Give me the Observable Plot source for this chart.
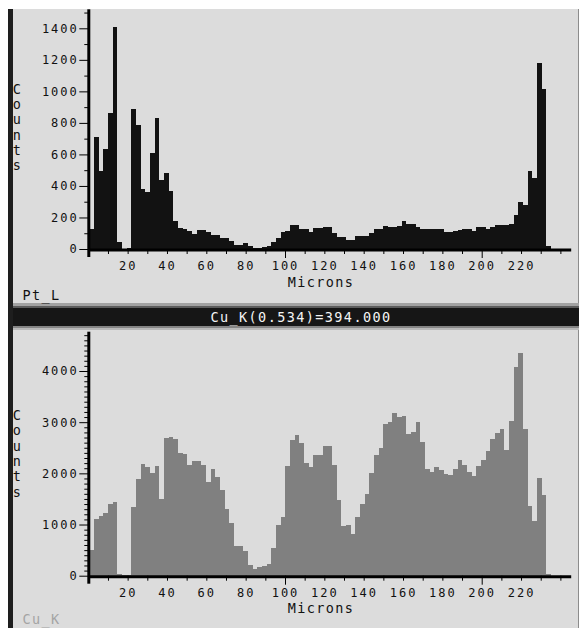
<!DOCTYPE html>
<html>
<head>
<meta charset="utf-8">
<script src="https://cdn.jsdelivr.net/npm/d3@7"></script>
<script src="https://cdn.jsdelivr.net/npm/@observablehq/plot@0.6"></script>
<style>
  html, body { margin: 0; padding: 0; background: #fff; }
  #scan { position: relative; width: 581px; height: 628px; overflow: hidden; background: #fff; }
  #scan .panel-bg { position: absolute; left: 8px; top: 9px; width: 571px; height: 619px; background: #dcdcdc; border-right: 1px solid #8c8c8c; box-sizing: border-box; }
  #scan .strip { position: absolute; left: 8px; top: 9px; width: 4.5px; height: 619px; background: #1e1e1e; }
  #scan .band { position: absolute; left: 12.5px; width: 566px; }
  #scan .chart { position: absolute; left: 0; }
  #scan .chart text { font-family: "DejaVu Sans Mono", monospace; font-size: 12px; letter-spacing: 2px; fill: #111; }
  #scan .overlay { position: absolute; left: 0; top: 0; }
  #scan .overlay text { font-family: "DejaVu Sans Mono", monospace; font-size: 13.5px; letter-spacing: 1.4px; fill: #111; }
</style>
</head>
<body>
<div id="scan">
  <div class="panel-bg"></div>
  <div class="strip"></div>
  <div class="band" style="top:303px;height:3px;background:#a2a2a2"></div>
  <div class="band" style="top:306px;height:2px;background:#5c5c5c"></div>
  <div class="band" style="top:308px;height:18px;background:#161616"></div>
  <div class="band" style="top:326px;height:2px;background:#858585"></div>
  <div class="band" style="top:328px;height:2px;background:#b9b9b9"></div>
</div>
<script>
// Line scan profiles: counts per bin along the traverse (microns)
const micronStart = 0.6;
const binWidth = 2.37;

const ptCounts = [
  125, 708, 497, 632, 860, 1410, 42, 3, 8, 886,
  786, 378, 359, 607, 833, 437, 484, 370, 179, 136,
  128, 115, 97, 118, 120, 108, 86, 88, 68, 69,
  53, 28, 27, 35, 20, 8, 9, 14, 20, 42,
  68, 108, 116, 150, 150, 126, 126, 106, 131, 133,
  137, 137, 100, 73, 73, 55, 55, 80, 80, 80,
  100, 127, 127, 148, 141, 141, 146, 180, 160, 156,
  141, 127, 125, 125, 125, 125, 106, 106, 116, 120,
  125, 125, 116, 137, 137, 125, 141, 154, 154, 154,
  160, 216, 296, 279, 496, 448, 1183, 1014, 22
];

const cuCounts = [
  502, 1113, 1166, 1224, 1406, 1439, 27, 8, 5, 1342,
  1882, 2188, 2123, 2000, 2143, 1504, 2689, 2702, 2676, 2403,
  2377, 2162, 2246, 2246, 2156, 1830, 2090, 1922, 1668, 1297,
  1035, 590, 590, 475, 209, 128, 163, 190, 229, 544,
  990, 1152, 2145, 2660, 2757, 2590, 2207, 2129, 2365, 2365,
  2533, 2533, 2162, 1485, 975, 1000, 809, 1152, 1405, 1590,
  2012, 2365, 2488, 2965, 3000, 3185, 3110, 3120, 2765, 2813,
  3005, 2618, 2080, 2030, 2120, 2065, 1995, 1966, 2080, 2265,
  2162, 2020, 1940, 2150, 2265, 2440, 2664, 2780, 2858, 2455,
  3030, 4075, 4343, 2858, 1370, 1060, 1901, 1570, 25
];

// Axis tick values
const xLabels = [20, 40, 60, 80, 100, 120, 140, 160, 180, 200, 220];
const xMajor = [100, 200];
const xMinor = [10, 20, 30, 40, 50, 60, 70, 80, 90, 110, 120, 130, 140, 150, 160, 170, 180, 190, 210, 220, 230, 240];
const ptYLabels = [0, 200, 400, 600, 800, 1000, 1200, 1400];
const ptYMinor = [100, 300, 500, 700, 900, 1100, 1300, 1500];
const cuYLabels = [0, 1000, 2000, 3000, 4000];
const cuYMinor = d3.range(100, 4800, 100).filter(v => v % 1000 !== 0);

// Text
const xTitle = "Microns";
const yTitle = "Counts";
const ptName = "Pt_L";
const cuName = "Cu_K";
const cursorReadout = "Cu_K(0.534)=394.000";

function profile({counts, fill, yMax, yLabels, yMinor, marginTop, marginBottom, top}) {
  const bins = counts.map((count, i) => ({
    x1: micronStart + i * binWidth,
    x2: micronStart + (i + 1) * binWidth,
    count
  }));
  const svg = Plot.plot({
    width: 581,
    height: 302,
    marginLeft: 88.3,
    marginRight: 9.8,
    marginTop,
    marginBottom,
    style: {background: "transparent", color: "#000", overflow: "visible"},
    x: {domain: [0, 245.5]},
    y: {domain: [0, yMax]},
    marks: [
      Plot.rectY(bins, {x1: "x1", x2: "x2", y: "count", fill, shapeRendering: "crispEdges"}),
      Plot.axisY({ticks: yMinor, tickSize: 4, tickFormat: () => "", label: null}),
      Plot.axisY({ticks: yLabels, tickSize: 9, tickPadding: 1, tickFormat: d => String(d), label: null}),
      Plot.axisX({ticks: xMinor, tickSize: 5, tickFormat: () => "", label: null}),
      Plot.axisX({ticks: xMajor, tickSize: 9, tickFormat: () => "", label: null}),
      Plot.axisX({ticks: xLabels, tickSize: 0, tickPadding: 12, tickFormat: d => String(d), label: null}),
      Plot.ruleY([0], {stroke: "#000", strokeWidth: 3, dy: 0.5}),
      Plot.ruleX([0], {stroke: "#000", strokeWidth: 3, insetBottom: -8})
    ]
  });
  svg.classList.add("chart");
  svg.style.top = top + "px";
  return svg;
}

const scan = document.getElementById("scan");
scan.appendChild(profile({
  counts: ptCounts, fill: "#121212", yMax: 1520.6,
  yLabels: ptYLabels, yMinor: ptYMinor,
  marginTop: 9.3, marginBottom: 53, top: 0
}));
scan.appendChild(profile({
  counts: cuCounts, fill: "#808080", yMax: 4768,
  yLabels: cuYLabels, yMinor: cuYMinor,
  marginTop: 5.7, marginBottom: 52.3, top: 326
}));

// Titles and panel names
const overlay = d3.select(scan).append("svg")
  .attr("class", "overlay").attr("width", 581).attr("height", 628);

function stacked(x, y0, step) {
  yTitle.split("").forEach((ch, i) => {
    overlay.append("text").attr("x", x).attr("y", y0 + i * step)
      .attr("text-anchor", "middle").text(ch);
  });
}
stacked(17.5, 94, 15.2);
stacked(17.5, 420, 15.3);

overlay.append("text").attr("x", 321).attr("y", 287).attr("text-anchor", "middle").text(xTitle);
overlay.append("text").attr("x", 321).attr("y", 612.5).attr("text-anchor", "middle").text(xTitle);
overlay.append("text").attr("x", 22.5).attr("y", 300).text(ptName);
overlay.append("text").attr("x", 22.5).attr("y", 624).style("fill", "#a4a4a4").text(cuName);
overlay.append("text").attr("x", 301).attr("y", 322).attr("text-anchor", "middle")
  .style("fill", "#f4f4f4").text(cursorReadout);
</script>
</body>
</html>
